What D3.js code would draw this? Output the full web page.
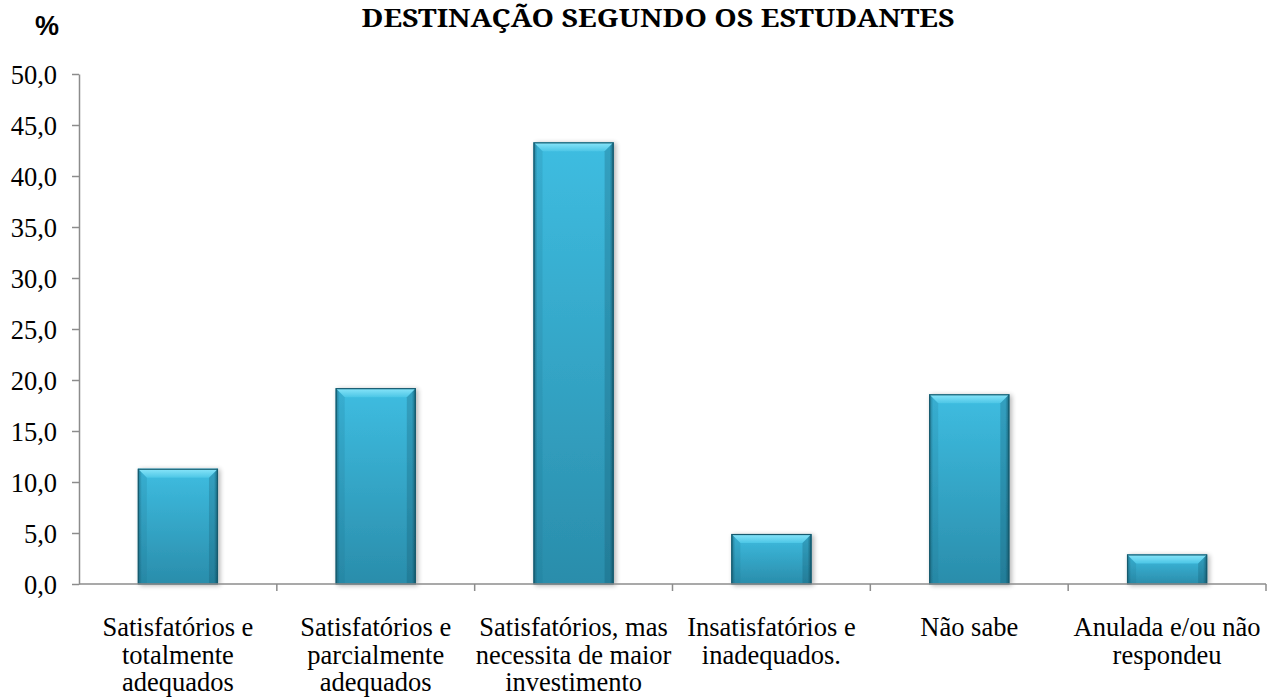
<!DOCTYPE html>
<html><head><meta charset="utf-8">
<script src="https://cdn.jsdelivr.net/npm/d3@7"></script>
<style>body{margin:0;background:#fff}svg{display:block}</style>
</head><body>
<svg id="c" width="1278" height="698"></svg>
<script>
const categories = [
  ["Satisfatórios e","totalmente","adequados"],
  ["Satisfatórios e","parcialmente","adequados"],
  ["Satisfatórios, mas","necessita de maior","investimento"],
  ["Insatisfatórios e","inadequados."],
  ["Não sabe"],
  ["Anulada e/ou não","respondeu"]
];
const values = [11.3, 19.2, 43.3, 4.9, 18.6, 2.9];
const yTicks = [0,5,10,15,20,25,30,35,40,45,50];
const title = "DESTINAÇÃO SEGUNDO OS ESTUDANTES";
const yUnit = "%";

const SERIF = "'Liberation Serif'";
const svg = d3.select("#c");
const L = 79, R = 1266, T = 74, B = 584;
const x = d3.scaleBand().domain(d3.range(categories.length)).range([L, R]).paddingInner(0.595).paddingOuter(0.2975);
const y = d3.scaleLinear().domain([0, 50]).range([B, T]);

const defs = svg.append("defs");
const gv = defs.append("linearGradient").attr("id","gv").attr("x1",0).attr("y1",0).attr("x2",0).attr("y2",1);
gv.append("stop").attr("offset","0%").attr("stop-color","#3ebde1");
gv.append("stop").attr("offset","100%").attr("stop-color","#2a8dab");
const gh = defs.append("linearGradient").attr("id","gh").attr("x1",0).attr("y1",0).attr("x2",1).attr("y2",0);
gh.append("stop").attr("offset","0%").attr("stop-color","#0b3c4a").attr("stop-opacity",0.5);
gh.append("stop").attr("offset","5%").attr("stop-color","#0b3c4a").attr("stop-opacity",0);
gh.append("stop").attr("offset","95%").attr("stop-color","#0b3c4a").attr("stop-opacity",0);
gh.append("stop").attr("offset","100%").attr("stop-color","#0b3c4a").attr("stop-opacity",0.6);
const gt = defs.append("linearGradient").attr("id","gt").attr("x1",0).attr("y1",0).attr("x2",0).attr("y2",1);
gt.append("stop").attr("offset","0%").attr("stop-color","#8ae6fa");
gt.append("stop").attr("offset","100%").attr("stop-color","#4cc6e6");
const flt = defs.append("filter").attr("id","sh").attr("x","-20%").attr("y","-20%").attr("width","140%").attr("height","140%");
flt.append("feGaussianBlur").attr("in","SourceAlpha").attr("stdDeviation",2.5).attr("result","b");
flt.append("feOffset").attr("in","b").attr("dx",1.5).attr("dy",1).attr("result","o");
flt.append("feComponentTransfer").attr("in","o").attr("result","o2").append("feFuncA").attr("type","linear").attr("slope",0.3);
const fm = flt.append("feMerge"); fm.append("feMergeNode").attr("in","o2"); fm.append("feMergeNode").attr("in","SourceGraphic");

// y axis
const yAxis = d3.axisLeft(y).tickValues(yTicks).tickSize(7).tickSizeOuter(0)
  .tickFormat(d => d3.format(".1f")(d).replace(".", ","));
const ya = svg.append("g").attr("transform",`translate(${L},0)`).call(yAxis);
ya.select(".domain").attr("stroke","#8c8c8c").attr("stroke-width",1.5);
ya.selectAll(".tick line").attr("stroke","#8c8c8c").attr("stroke-width",1.5);
ya.selectAll(".tick text").attr("font-family", SERIF).attr("font-size", 26.5)
  .attr("fill","#000").attr("x",-22).attr("dy","0.35em");

// bars
const bars = svg.append("g").selectAll("g").data(values).join("g").attr("filter","url(#sh)");
bars.append("rect").attr("x",(d,i)=>x(i)).attr("y",d=>y(d)).attr("width",x.bandwidth()).attr("height",d=>B-y(d)).attr("fill","url(#gv)");
bars.append("rect").attr("x",(d,i)=>x(i)).attr("y",d=>y(d)).attr("width",x.bandwidth()).attr("height",d=>B-y(d)).attr("fill","url(#gh)");
const bev = 9;
bars.append("path").attr("d",(d,i)=>{const x0=x(i),x1=x(i)+x.bandwidth(),y0=y(d);return `M${x0},${y0}L${x1},${y0}L${x1-bev},${y0+bev}L${x0+bev},${y0+bev}Z`;})
  .attr("fill","url(#gt)");
bars.append("path").attr("d",(d,i)=>{const x0=x(i),y0=y(d);return `M${x0},${y0}L${x0+bev},${y0+bev}L${x0+bev},${B}L${x0},${B}Z`;})
  .attr("fill","#1d6f88").attr("opacity",0.18);
bars.append("path").attr("d",(d,i)=>{const x1=x(i)+x.bandwidth(),y0=y(d);return `M${x1},${y0}L${x1-bev},${y0+bev}L${x1-bev},${B}L${x1},${B}Z`;})
  .attr("fill","#0f4d60").attr("opacity",0.25);
bars.append("rect").attr("x",(d,i)=>x(i)+0.5).attr("y",d=>y(d)+0.5).attr("width",x.bandwidth()-1).attr("height",d=>B-y(d)-0.5)
  .attr("fill","none").attr("stroke","#165a6e").attr("stroke-width",1.2);

// x axis
const bounds = d3.range(categories.length+1).map(i => L + i*(R-L)/categories.length);
const xa = svg.append("g");
xa.append("line").attr("x1",L).attr("x2",R).attr("y1",B).attr("y2",B).attr("stroke","#8c8c8c").attr("stroke-width",1.5);
xa.selectAll("line.t").data(bounds.slice(1)).join("line").attr("class","t")
  .attr("x1",d=>d).attr("x2",d=>d).attr("y1",B).attr("y2",B+7).attr("stroke","#8c8c8c").attr("stroke-width",1.5);
const lab = svg.append("g").selectAll("text").data(categories).join("text")
  .attr("font-family", SERIF).attr("font-size",26.5).attr("fill","#000")
  .attr("x",(d,i)=>x(i)+x.bandwidth()/2).attr("y",636)
  .attr("text-anchor","middle");
lab.selectAll("tspan").data(d=>d).join("tspan").attr("x",function(){return d3.select(this.parentNode).attr("x");})
  .attr("dy",(d,i)=>i===0?0:27.5).text(d=>d);

svg.append("text").attr("x",658).attr("y",27).attr("text-anchor","middle")
  .attr("font-family", "'Noto Serif'").attr("font-weight","bold").attr("font-size",25.5)
  .attr("textLength",593).attr("lengthAdjust","spacingAndGlyphs").text(title);
svg.append("text").attr("x",47).attr("y",35).attr("text-anchor","middle")
  .attr("font-family","'Liberation Sans'").attr("font-weight","bold").attr("font-size",27).text(yUnit);
</script>
</body></html>
